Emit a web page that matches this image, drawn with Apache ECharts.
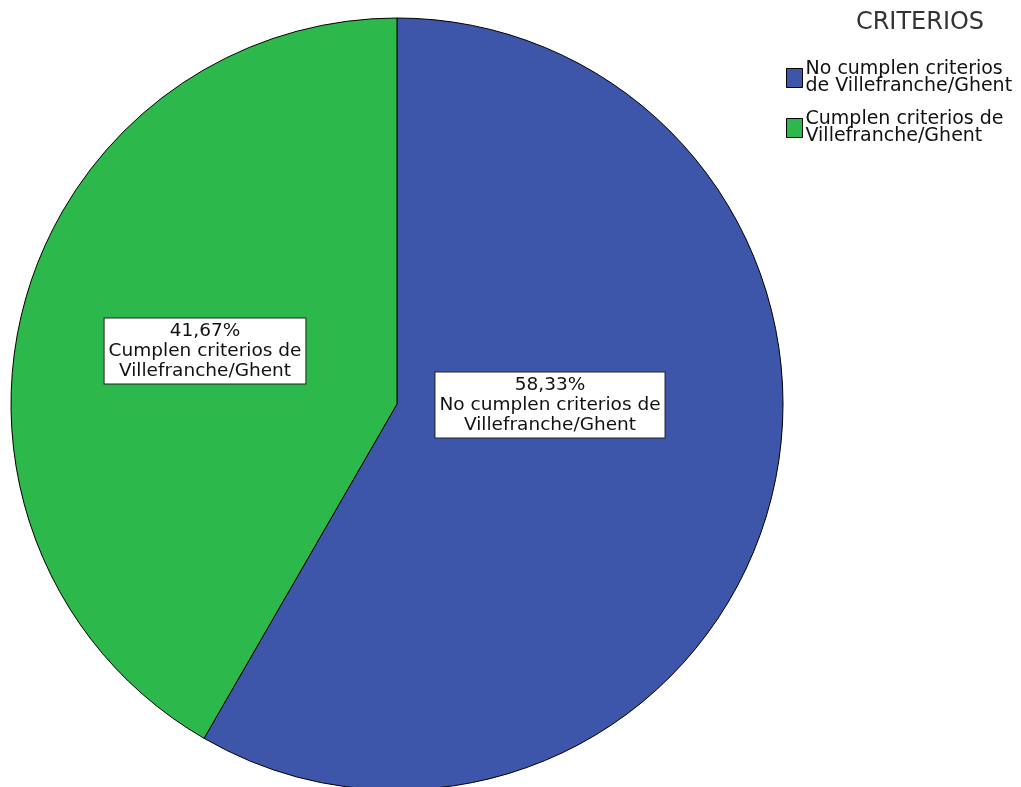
<!DOCTYPE html>
<html>
<head>
<meta charset="utf-8">
<script src="https://cdn.jsdelivr.net/npm/echarts@6/dist/echarts.min.js"></script>
<style>html,body{margin:0;padding:0;background:#fff}#c{width:1021px;height:787px}</style>
</head>
<body>
<div id="c"></div>
<script>
var categories = ['No cumplen criterios de Villefranche/Ghent', 'Cumplen criterios de Villefranche/Ghent'];
var values = [58.33, 41.67];
var labelTexts = ['No cumplen criterios de\nVillefranche/Ghent', 'Cumplen criterios de\nVillefranche/Ghent'];
var legendTexts = ['No cumplen criterios\nde Villefranche/Ghent', 'Cumplen criterios de\nVillefranche/Ghent'];
var colors = ['#3d56a9', '#2db84b'];
var legendTitle = 'CRITERIOS';

var labelPos = [[550, 405], [205, 351]];
var FONT = 'DejaVu Sans';

var chart = echarts.init(document.getElementById('c'), null, {renderer: 'canvas'});
chart.setOption({
  animation: false,
  title: {
    text: legendTitle, left: 915, top: 6, textAlign: 'center',
    textStyle: {fontFamily: FONT, fontSize: 24, fontWeight: 'normal', color: '#333'}
  },
  legend: {
    orient: 'vertical', left: 781, top: 55, itemGap: 14,
    itemWidth: 16, itemHeight: 19, icon: 'rect',
    itemStyle: {borderColor: '#000', borderWidth: 1},
    data: categories,
    formatter: function (n) { return legendTexts[categories.indexOf(n)]; },
    textStyle: {fontFamily: FONT, fontSize: 19, lineHeight: 17, color: '#111', padding: [0, 0, 0, -2]}
  },
  series: [{
    type: 'pie',
    center: [397, 404],
    radius: 386,
    startAngle: 90,
    clockwise: true,
    data: categories.map(function (c, i) {
      return {name: c, value: values[i], itemStyle: {color: colors[i]}};
    }),
    itemStyle: {borderColor: '#000', borderWidth: 1},
    label: {
      show: true, position: 'inside',
      formatter: function (p) {
        return p.percent.toFixed(2).replace('.', ',') + '%\n' + labelTexts[p.dataIndex];
      },
      fontFamily: FONT, fontSize: 18.5, lineHeight: 20, color: '#111', align: 'center',
      backgroundColor: '#fff', borderColor: '#222', borderWidth: 1,
      padding: [3, 4, 2, 4]
    },
    labelLayout: function (p) {
      return {x: labelPos[p.dataIndex][0], y: labelPos[p.dataIndex][1], align: 'center', verticalAlign: 'middle'};
    },
    emphasis: {disabled: true}
  }]
});
</script>
</body>
</html>
